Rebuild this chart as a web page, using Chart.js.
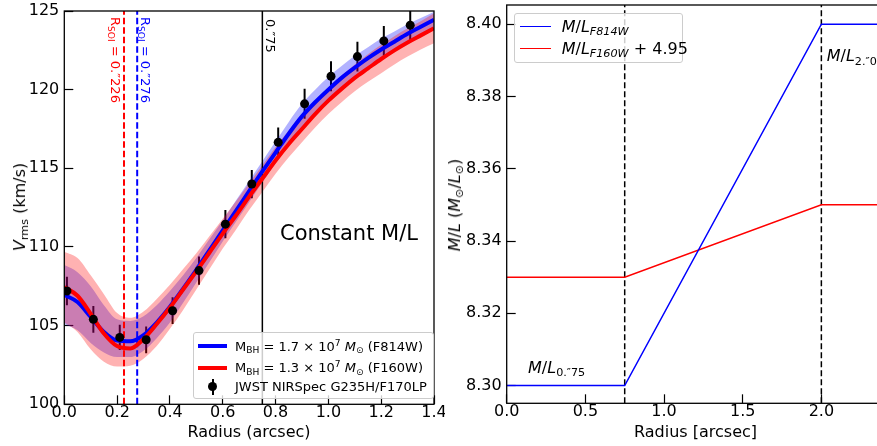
<!DOCTYPE html>
<html>
<head>
<meta charset="utf-8">
<script src="https://cdn.jsdelivr.net/npm/chart.js@4.4.1/dist/chart.umd.min.js"></script>
<style>
html,body{margin:0;padding:0;background:#fff;width:877px;height:446px;overflow:hidden;}
#wrap{position:relative;width:877px;height:446px;overflow:hidden;font-family:"DejaVu Sans",sans-serif;color:#000;}
.box{position:absolute;top:0;}
.t{position:absolute;white-space:nowrap;line-height:1;}
.t sub,.lg sub{font-size:70%;vertical-align:baseline;position:relative;top:0.3em;}
.t sup,.lg sup{font-size:70%;vertical-align:baseline;position:relative;top:-0.55em;}
.c{transform:translate(-50%,-50%);}
.rot{transform-origin:0 0;transform:rotate(90deg);font-size:13px;}
.lg{position:absolute;border:1px solid #cccccc;border-radius:3px;background:rgba(255,255,255,0.8);box-sizing:border-box;}
.it{position:absolute;white-space:nowrap;line-height:1;}
.sw{position:absolute;}
</style>
</head>
<body>
<div id="wrap">
  <div class="box" style="left:0;width:445px;height:446px;"><canvas id="c1" width="445" height="446"></canvas></div>
  <div class="box" style="left:440px;width:450px;height:446px;"><canvas id="c2" width="450" height="446"></canvas></div>

  <!-- left panel texts -->
  <div class="t" style="left:20px;top:207px;font-size:16px;transform:translate(-50%,-50%) rotate(-90deg);"><i>V</i><sub>rms</sub> (km/s)</div>
  <div class="t c" style="left:249px;top:432px;font-size:16px;">Radius (arcsec)</div>
  <div class="t" style="left:280px;top:232.5px;font-size:21px;transform:translateY(-50%);">Constant M/L</div>
  <div class="t rot" style="left:122px;top:17px;color:#ff0000;">R<sub>SOI</sub> = 0.″226</div>
  <div class="t rot" style="left:151.5px;top:17px;color:#0000ff;">R<sub>SOI</sub> = 0.″276</div>
  <div class="t rot" style="left:276.5px;top:19px;color:#000;">0.″75</div>

  <div class="lg" style="left:193px;top:332px;width:241px;height:67px;">
    <div class="sw" style="left:4px;top:11px;width:29px;height:4px;background:#0000ff;"></div>
    <div class="sw" style="left:4px;top:32.7px;width:29px;height:4px;background:#ff0000;"></div>
    <div class="sw" style="left:17.5px;top:45.7px;width:2px;height:16px;background:#000;"></div>
    <div class="sw" style="left:14px;top:49.2px;width:9px;height:9px;border-radius:50%;background:#000;"></div>
    <div class="it" style="left:41px;top:6.5px;font-size:13px;">M<sub>BH</sub> = 1.7 × 10<sup>7</sup> <i>M</i><sub>⊙</sub> (F814W)</div>
    <div class="it" style="left:41px;top:28.2px;font-size:13px;">M<sub>BH</sub> = 1.3 × 10<sup>7</sup> <i>M</i><sub>⊙</sub> (F160W)</div>
    <div class="it" style="left:41px;top:47.2px;font-size:13px;">JWST NIRSpec G235H/F170LP</div>
  </div>

  <!-- right panel texts -->
  <div class="t" style="left:455px;top:205px;font-size:16px;transform:translate(-50%,-50%) rotate(-90deg);"><i>M</i>/<i>L</i> (<i>M</i><sub>⊙</sub>/<i>L</i><sub>⊙</sub>)</div>
  <div class="t c" style="left:695.5px;top:432px;font-size:16px;">Radius [arcsec]</div>
  <div class="t" style="left:528px;top:359.5px;font-size:16px;"><i>M</i>/<i>L</i><sub>0.″75</sub></div>
  <div class="t" style="left:826.7px;top:48.2px;font-size:16px;"><i>M</i>/<i>L</i><sub>2.″0</sub></div>

  <div class="lg" style="left:514px;top:13px;width:169px;height:50px;">
    <div class="sw" style="left:5px;top:11.7px;width:31px;height:1.6px;background:#0000ff;"></div>
    <div class="sw" style="left:5px;top:33.7px;width:31px;height:1.6px;background:#ff0000;"></div>
    <div class="it" style="left:46.7px;top:4.5px;font-size:16px;"><i>M</i>/<i>L</i><sub><i>F814W</i></sub></div>
    <div class="it" style="left:46.7px;top:26.5px;font-size:16px;"><i>M</i>/<i>L</i><sub><i>F160W</i></sub> + 4.95</div>
  </div>
</div>

<script>
// ---------------- Left panel data ----------------
const radiusGrid = [0.00,0.05,0.10,0.15,0.20,0.25,0.30,0.35,0.40,0.45,0.50,0.55,0.60,0.65,0.70,0.75,0.80,0.85,0.90,0.95,1.00,1.05,1.10,1.15,1.20,1.25,1.30,1.35,1.40];
const vModelF814W = [106.95,106.5,105.55,104.6,104.05,104.0,104.4,105.2,106.2,107.35,108.55,109.8,111.05,112.3,113.55,114.8,116.0,117.2,118.3,119.2,120.0,120.75,121.4,122.0,122.55,123.05,123.55,124.0,124.45];
const vUpperF814W = [108.85,108.4,107.5,106.3,105.4,105.3,105.6,106.3,107.2,108.2,109.3,110.5,111.7,112.95,114.2,115.45,116.7,117.95,119.1,120.0,120.8,121.5,122.15,122.7,123.25,123.7,124.15,124.55,124.95];
const vLowerF814W = [105.1,104.7,103.9,103.3,103.0,103.0,103.4,104.2,105.2,106.45,107.75,109.05,110.35,111.6,112.85,114.1,115.3,116.45,117.5,118.4,119.2,120.0,120.65,121.3,121.85,122.4,122.95,123.45,123.95];
const vModelF160W = [107.45,106.9,105.75,104.5,103.7,103.55,104.15,105.1,106.15,107.3,108.45,109.65,110.85,112.0,113.2,114.35,115.5,116.55,117.5,118.45,119.3,120.05,120.75,121.35,121.95,122.5,123.0,123.45,123.9];
const vUpperF160W = [109.7,109.3,108.2,107.0,105.8,105.5,105.9,106.7,107.6,108.6,109.6,110.7,111.8,112.9,114.05,115.2,116.35,117.4,118.35,119.3,120.15,120.9,121.6,122.25,122.85,123.4,123.9,124.35,124.85];
const vLowerF160W = [105.2,104.6,103.5,102.7,102.4,102.45,102.9,103.7,104.8,106.0,107.3,108.6,109.9,111.1,112.35,113.5,114.65,115.7,116.65,117.6,118.45,119.2,119.9,120.5,121.05,121.6,122.1,122.55,122.95];

const obsRadius = [0.01,0.11,0.21,0.31,0.41,0.51,0.61,0.71,0.81,0.91,1.01,1.11,1.21,1.31];
const obsVrms   = [107.2,105.4,104.25,104.1,105.95,108.5,111.45,114.0,116.65,119.1,120.85,122.1,123.1,124.1];
const obsErr    = [0.9,0.85,0.8,0.85,0.85,0.9,0.9,0.9,0.95,0.95,0.95,0.95,0.95,0.95];

const rsoiF160W = 0.226;
const rsoiF814W = 0.276;
const rFixed = 0.75;

const xTicksLeft = [0.0,0.2,0.4,0.6,0.8,1.0,1.2,1.4];
const yTicksLeft = [100,105,110,115,120,125];
const xRangeLeft = [0, 1.4];
const yRangeLeft = [100, 125];

// ---------------- Right panel data ----------------
const mlRadius = [0, 0.75, 2.0, 2.4];
const mlF814W  = [8.30, 8.30, 8.40, 8.40];
const mlF160W  = [8.33, 8.33, 8.35, 8.35];
const mlBreaks = [0.75, 2.0];
const xTicksRight = [0.0,0.5,1.0,1.5,2.0];
const yTicksRight = [8.30,8.32,8.34,8.36,8.38,8.40];
const xRangeRight = [0, 2.4];
const yRangeRight = [8.2951, 8.4053];

// ---------------- helpers ----------------
Chart.defaults.font.family = "'DejaVu Sans', sans-serif";
Chart.defaults.color = '#000';

const pts = (xs, ys) => xs.map((x, i) => ({x: x, y: ys[i]}));
const vline = (x, yr) => [{x: x, y: yr[0]}, {x: x, y: yr[1]}];
const errSegments = [];
obsRadius.forEach((r, i) => {
  errSegments.push({x: r, y: obsVrms[i] - obsErr[i]});
  errSegments.push({x: r, y: obsVrms[i] + obsErr[i]});
  errSegments.push({x: r, y: null});
});

const framePlugin = {
  id: 'frame',
  afterDatasetsDraw(chart, args, opts) {
    const {ctx, chartArea: a} = chart;
    ctx.save();
    ctx.strokeStyle = '#000';
    ctx.lineWidth = 1.3;
    ctx.strokeRect(a.left, a.top, a.right - a.left, a.bottom - a.top);
    ctx.restore();
  }
};

function axisCfg(range, ticksArr, decimals, isX, fitSize) {
  return {
    type: 'linear',
    min: range[0], max: range[1],
    afterBuildTicks: s => { s.ticks = ticksArr.map(v => ({value: v})); },
    ticks: {
      autoSkip: false, maxRotation: 0, minRotation: 0,
      font: {size: 16}, color: '#000',
      padding: isX ? 8 : 14,
      callback: v => Number(v).toFixed(decimals)
    },
    grid: {drawOnChartArea: false, drawTicks: true, tickLength: -9, tickWidth: 1.2, color: '#000'},
    border: {display: false},
    afterFit: s => {
      if (isX) { s.height = fitSize; } else { s.width = fitSize; }
      s.paddingLeft = 0; s.paddingRight = 0; s.paddingTop = 0; s.paddingBottom = 0;
    }
  };
}

// ---------------- Left chart ----------------
new Chart(document.getElementById('c1'), {
  type: 'line',
  data: {
    datasets: [
      {data: pts(obsRadius, obsVrms).length ? errSegments : [], borderColor: '#000', borderWidth: 2, pointRadius: 0, spanGaps: false, fill: false, order: 12},
      {data: pts(radiusGrid, vUpperF814W), borderWidth: 0, pointRadius: 0, fill: '+1', backgroundColor: 'rgba(0,0,255,0.3)', cubicInterpolationMode: 'monotone', order: 11},
      {data: pts(radiusGrid, vLowerF814W), borderWidth: 0, pointRadius: 0, fill: false, cubicInterpolationMode: 'monotone', order: 11},
      {data: pts(radiusGrid, vUpperF160W), borderWidth: 0, pointRadius: 0, fill: '+1', backgroundColor: 'rgba(255,0,0,0.3)', cubicInterpolationMode: 'monotone', order: 10},
      {data: pts(radiusGrid, vLowerF160W), borderWidth: 0, pointRadius: 0, fill: false, cubicInterpolationMode: 'monotone', order: 10},
      {data: vline(rsoiF160W, yRangeLeft), borderColor: '#ff0000', borderWidth: 2, borderDash: [6.5, 3], pointRadius: 0, fill: false, order: 8},
      {data: vline(rsoiF814W, yRangeLeft), borderColor: '#0000ff', borderWidth: 2, borderDash: [6.5, 3], pointRadius: 0, fill: false, order: 8},
      {data: vline(rFixed, yRangeLeft), borderColor: '#000', borderWidth: 1.5, pointRadius: 0, fill: false, order: 8},
      {data: pts(radiusGrid, vModelF814W), borderColor: '#0000ff', borderWidth: 4, pointRadius: 0, fill: false, cubicInterpolationMode: 'monotone', order: 5},
      {data: pts(radiusGrid, vModelF160W), borderColor: '#ff0000', borderWidth: 4, pointRadius: 0, fill: false, cubicInterpolationMode: 'monotone', order: 4},
      {data: pts(obsRadius, obsVrms), showLine: false, pointRadius: 4.5, pointBackgroundColor: '#000', pointBorderWidth: 0, fill: false, order: 2}
    ]
  },
  options: {
    responsive: false, animation: false, events: [],
    layout: {padding: {top: 11, right: 11, left: 0, bottom: 0}},
    plugins: {legend: {display: false}, tooltip: {enabled: false}},
    scales: {
      x: axisCfg(xRangeLeft, xTicksLeft, 1, true, 41.7),
      y: axisCfg(yRangeLeft, yTicksLeft, 0, false, 64.3)
    }
  },
  plugins: [framePlugin]
});

// ---------------- Right chart ----------------
new Chart(document.getElementById('c2'), {
  type: 'line',
  data: {
    datasets: [
      {data: vline(mlBreaks[0], yRangeRight), borderColor: '#000', borderWidth: 1.5, borderDash: [6, 3], pointRadius: 0, fill: false, order: 5},
      {data: vline(mlBreaks[1], yRangeRight), borderColor: '#000', borderWidth: 1.5, borderDash: [6, 3], pointRadius: 0, fill: false, order: 5},
      {data: pts(mlRadius, mlF160W), borderColor: '#ff0000', borderWidth: 1.5, pointRadius: 0, fill: false, tension: 0, order: 3},
      {data: pts(mlRadius, mlF814W), borderColor: '#0000ff', borderWidth: 1.5, pointRadius: 0, fill: false, tension: 0, order: 2}
    ]
  },
  options: {
    responsive: false, animation: false, events: [],
    layout: {padding: {top: 5, right: 5.7, left: 0, bottom: 0}},
    plugins: {legend: {display: false}, tooltip: {enabled: false}},
    scales: {
      x: axisCfg(xRangeRight, xTicksRight, 1, true, 42.7),
      y: axisCfg(yRangeRight, yTicksRight, 2, false, 66.7)
    }
  },
  plugins: [framePlugin]
});
</script>
</body>
</html>
